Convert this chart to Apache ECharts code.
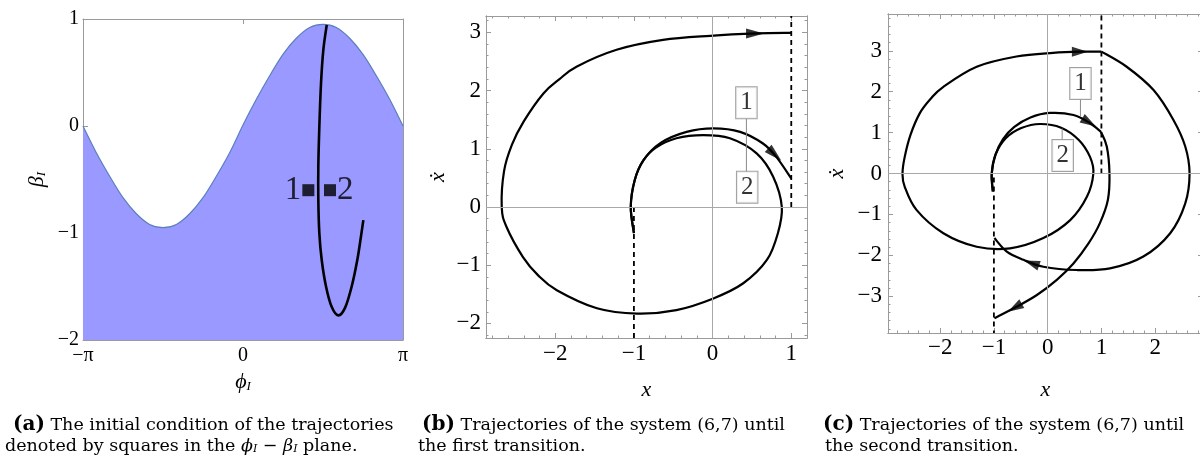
<!DOCTYPE html>
<html><head><meta charset="utf-8">
<script src="https://cdn.jsdelivr.net/npm/echarts@6/dist/echarts.min.js"></script>
<style>html,body{margin:0;padding:0;background:#fff}#c{width:1200px;height:456px}</style>
</head><body><div id="c"></div>
<script>
// ================= DATA =================
// (a) phi_I - beta_I plane
const aBoundaryPhi  = [-3.142,-2.880,-2.618,-2.356,-2.094,-1.833,-1.571,-1.309,-1.047,-0.785,-0.524,-0.262,0,0.262,0.524,0.785,1.047,1.309,1.571,1.833,2.094,2.356,2.618,2.880,3.142];
const aBoundaryBeta = [0,-0.25,-0.47,-0.67,-0.82,-0.92,-0.95,-0.92,-0.82,-0.67,-0.47,-0.25,0.01,0.25,0.47,0.67,0.82,0.92,0.95,0.92,0.82,0.67,0.47,0.25,0];
const aCurvePhi  = [1.644,1.577,1.532,1.499,1.479,1.479,1.499,1.545,1.630,1.741,1.872,2.003,2.134,2.245,2.317,2.363];
const aCurveBeta = [0.944,0.71,0.40,-0.006,-0.38,-0.69,-1.003,-1.25,-1.50,-1.69,-1.77,-1.70,-1.50,-1.25,-1.03,-0.88];
const aSquarePhi  = [1.283, 1.708];
const aSquareBeta = [-0.60, -0.60];
const aSquareNames = ['1', '2'];
const aTickPhi = [-3.1416, 0, 3.1416];
const aTickPhiLabels = ['\u2212\u03c0', '0', '\u03c0'];
const aTickBeta = [-2, -1, 0, 1];

// (b) until the first transition
const bTrajA = [[-1.0,-0.45],[-1.04,0.0],[-0.99,0.46],[-0.88,0.80],[-0.72,1.02],[-0.46,1.18],[-0.12,1.235],[0.22,1.18],[0.56,0.92],[0.77,0.52],[0.88,0.0],[0.83,-0.45],[0.69,-0.91],[0.39,-1.31],[0.01,-1.57],[-0.46,-1.77],[-0.96,-1.83],[-1.47,-1.74],[-1.98,-1.43],[-2.22,-1.17],[-2.41,-0.86],[-2.62,-0.34],[-2.68,0.0],[-2.65,0.62],[-2.55,1.07],[-2.40,1.47],[-2.15,1.95],[-1.95,2.19],[-1.73,2.41],[-1.22,2.70],[-0.63,2.87],[-0.03,2.94],[0.56,2.98],[1.0,2.99]];
const bTrajB = [[-1.0,-0.45],[-1.04,0.0],[-0.99,0.46],[-0.88,0.80],[-0.66,1.10],[-0.33,1.29],[0.01,1.35],[0.35,1.29],[0.64,1.09],[0.81,0.86],[1.0,0.49]];
const bSwitchUp = [[1,0],[1,3.28]];
const bSwitchDown = [[-1,0],[-1,-2.25]];
const bArrows = [[0.54,2.98],[0.79,0.90]];
const bArrowDeg = [-90,-133];
const bLabels = [[0.43,1.79],[0.44,0.34]];
const bLabelNames = ['1','2'];
const bConnector = [[0.43,1.52],[0.43,0.60]];
const bTickX = [-2,-1,0,1];
const bTickY = [-2,-1,0,1,2,3];

// (c) until the second transition
const cTrajA1 = [[-1.02,-0.44],[-1.04,0.0],[-0.97,0.46],[-0.78,0.86],[-0.49,1.11],[-0.14,1.21],[0.25,1.12],[0.58,0.82],[0.79,0.40],[0.85,0.0],[0.73,-0.57],[0.42,-1.14],[-0.08,-1.58],[-0.70,-1.83],[-1.32,-1.79],[-1.94,-1.46],[-2.44,-0.89],[-2.66,-0.32],[-2.70,0.0],[-2.66,0.40],[-2.55,0.95],[-2.38,1.47],[-2.18,1.82],[-1.94,2.12],[-1.32,2.61],[-0.58,2.86],[0.10,2.95],[0.60,2.98],[1.0,2.98]];
const cTrajA2 = [[1.0,2.98],[1.47,2.61],[1.97,2.04],[2.34,1.31],[2.56,0.66],[2.64,0.0],[2.56,-0.73],[2.28,-1.46],[1.78,-2.03],[1.16,-2.32],[0.54,-2.36],[-0.08,-2.28],[-0.45,-2.11],[-0.76,-1.91],[-0.99,-1.58]];
const cTrajB1 = [[-1.02,-0.44],[-1.04,0.0],[-0.97,0.46],[-0.83,0.84],[-0.62,1.14],[-0.32,1.37],[0.04,1.48],[0.48,1.43],[0.79,1.23],[0.99,1.02]];
const cTrajB2 = [[0.99,1.02],[1.10,0.66],[1.15,0.0],[1.12,-0.65],[0.97,-1.22],[0.76,-1.71],[0.48,-2.20],[0.17,-2.60],[-0.20,-2.97],[-0.58,-3.26],[-0.99,-3.54]];
const cSwitchUp = [[1,0],[1,3.9]];
const cSwitchDown = [[-1,-0.1],[-1,-3.9]];
const cArrows = [[0.60,2.98],[0.77,1.25],[-0.30,-2.19],[-0.61,-3.28]];
const cArrowDeg = [-90,-121,71,120];
const cLabels = [[0.61,2.20],[0.28,0.44]];
const cLabelNames = ['1','2'];
const cConnectors = [[[0.61,1.81],[0.61,1.39]],[[0.27,0.84],[0.27,1.10]]];
const cTickX = [-2,-1,0,1,2];
const cTickY = [-3,-2,-1,0,1,2,3];

// ================= CHART =================
const FONT = 'Liberation Serif';
const CAPFONT = 'DejaVu Serif';
const FRAME = '#9a9a9a';
const A_YMIN = -2;
const fmtNum = v => v < 0 ? '\u2212' + Math.abs(v) : String(v);
function minorValues(min, max, step) {
  const out = [];
  for (let k = Math.ceil(min / step - 1e-9); k * step <= max + 1e-9; k++) out.push(+(k * step).toFixed(4));
  return out;
}
const xAxes = [], yAxes = [];
function addAxes(list, kind, gi, min, max, majors, fmt, fontSize, labelMargin, minorStep, nameCfg) {
  const base = { type: 'value', gridIndex: gi, min, max, scale: false,
    splitLine: { show: false }, axisPointer: { show: false },
    axisLine: { show: true, onZero: false, lineStyle: { color: FRAME, width: 1 } } };
  const posA = kind === 'x' ? 'bottom' : 'left', posB = kind === 'x' ? 'top' : 'right';
  const mainIdx = list.length;
  list.push(Object.assign({}, base, nameCfg, { position: posA,
    axisTick: { show: true, inside: true, length: 5, customValues: majors, lineStyle: { color: FRAME } },
    axisLabel: { show: true, customValues: majors, formatter: fmt, fontFamily: FONT, fontSize, color: '#000', margin: labelMargin } }));
  list.push(Object.assign({}, base, { position: posB,
    axisTick: { show: true, inside: true, length: 5, customValues: majors, lineStyle: { color: FRAME } },
    axisLabel: { show: false } }));
  if (minorStep) {
    const minors = minorValues(min, max, minorStep);
    list.push(Object.assign({}, base, { position: posB,
      axisTick: { show: true, inside: true, length: 2.5, customValues: minors, lineStyle: { color: FRAME } },
      axisLabel: { show: false } }));
    list.push(Object.assign({}, base, { position: posA,
      axisTick: { show: true, inside: true, length: 2.5, customValues: minors, lineStyle: { color: FRAME } },
      axisLabel: { show: false } }));
  }
  return mainIdx;
}
const subRich = { i: { fontFamily: FONT, fontStyle: 'italic', fontSize: 22, color: '#000' },
                  s: { fontFamily: FONT, fontStyle: 'italic', fontSize: 13, color: '#000', verticalAlign: 'bottom', padding: [8, 0, 0, 0] } };
function nameCfg(name, gap, rotate, rich) {
  return { name, nameLocation: 'middle', nameGap: gap, nameRotate: rotate,
    nameTextStyle: { fontFamily: FONT, fontStyle: 'italic', fontSize: 22, color: '#000', rich: rich || {} } };
}

// grid a
const axA = addAxes(xAxes, 'x', 0, -3.1416, 3.1416, aTickPhi, (v) => aTickPhiLabels[aTickPhi.indexOf(v)] ?? '', 20, 6, 0, nameCfg('{i|\u03d5}{s|I}', 29, 0, subRich));
const ayA = addAxes(yAxes, 'y', 0, A_YMIN, 1, aTickBeta, fmtNum, 20, 4, 0, nameCfg('{i|\u03b2}{s|I}', 35, 90, subRich));
// grid b
const axB = addAxes(xAxes, 'x', 1, -2.88, 1.2, bTickX, fmtNum, 23, 4, 0.2, nameCfg('x', 41, 0));
const ayB = addAxes(yAxes, 'y', 1, -2.25, 3.28, bTickY, fmtNum, 23, 5, 0.2, nameCfg('\u1e8b', 37, 90));
// grid c
const axC = addAxes(xAxes, 'x', 2, -2.97, 2.89, cTickX, fmtNum, 23, 3, 0.2, nameCfg('x', 46, 0));
const ayC = addAxes(yAxes, 'y', 2, -3.9, 3.9, cTickY, fmtNum, 23, 6, 0.2, nameCfg('\u1e8b', 40, 90));

const zip = (xs, ys) => xs.map((x, i) => [x, ys[i]]);

// Smooth (Catmull-Rom) rendering of read points in pixel space, through the axes' own scales.
function smoothPathData(px) {
  let d = 'M' + px[0][0] + ',' + px[0][1];
  for (let i = 0; i < px.length - 1; i++) {
    const p0 = px[i - 1] || px[i], p1 = px[i], p2 = px[i + 1], p3 = px[i + 2] || px[i + 1];
    const c1x = p1[0] + (p2[0] - p0[0]) / 6, c1y = p1[1] + (p2[1] - p0[1]) / 6;
    const c2x = p2[0] - (p3[0] - p1[0]) / 6, c2y = p2[1] - (p3[1] - p1[1]) / 6;
    d += ' C' + c1x + ',' + c1y + ' ' + c2x + ',' + c2y + ' ' + p2[0] + ',' + p2[1];
  }
  return d;
}
const curve = (xi, yi, pts, width) => ({
  type: 'custom', coordinateSystem: 'cartesian2d', xAxisIndex: xi, yAxisIndex: yi, silent: true, z: 3,
  data: [pts[0]],
  renderItem: (params, api) => ({
    type: 'path',
    shape: { pathData: smoothPathData(pts.map(p => api.coord(p))) },
    style: { stroke: '#000', lineWidth: width || 2.2, fill: 'none', lineJoin: 'round', lineCap: 'butt' }
  })
});
const plainLine = (xi, yi, data, lineStyle, z) => ({ type: 'line', xAxisIndex: xi, yAxisIndex: yi, data, smooth: false,
  symbol: 'none', silent: true, lineStyle, z });
const dashed = (xi, yi, data) => plainLine(xi, yi, data, { color: '#000', width: 1.8, type: [5, 4] }, 2);
const thin = (xi, yi, data) => plainLine(xi, yi, data, { color: '#8a8a8a', width: 1 }, 4);
const zeroLines = (xi, yi) => ({ type: 'line', xAxisIndex: xi, yAxisIndex: yi, data: [], silent: true,
  markLine: { silent: true, symbol: 'none', label: { show: false }, animation: false,
    lineStyle: { color: '#a8a8a8', width: 1, type: 'solid' }, data: [{ xAxis: 0 }, { yAxis: 0 }] }, z: 1 });
const arrows = (xi, yi, pts, degs, size) => ({ type: 'scatter', xAxisIndex: xi, yAxisIndex: yi, silent: true, z: 6,
  symbol: 'triangle', symbolSize: size, itemStyle: { color: '#000' },
  data: pts.map((p, i) => ({ value: p, symbolRotate: degs[i] })) });
const boxes = (xi, yi, pts, names, fs) => ({ type: 'scatter', xAxisIndex: xi, yAxisIndex: yi, silent: true, z: 7,
  symbol: 'circle', symbolSize: 0.1, itemStyle: { color: 'transparent' },
  label: { show: true, position: 'inside', formatter: p => names[p.dataIndex], fontFamily: FONT, fontSize: fs, color: '#000',
    backgroundColor: '#fff', borderColor: '#8a8a8a', borderWidth: 1, padding: [2, 4, 1, 4], lineHeight: fs + 3 },
  data: pts });

const aBoundary = zip(aBoundaryPhi, aBoundaryBeta);
const series = [
  // (a) shaded region below the boundary curve
  { type: 'custom', coordinateSystem: 'cartesian2d', xAxisIndex: axA, yAxisIndex: ayA, silent: true, z: 1,
    data: [aBoundary[0]],
    renderItem: (params, api) => {
      const px = aBoundary.map(p => api.coord(p));
      const br = api.coord([aBoundaryPhi[aBoundaryPhi.length - 1], A_YMIN]);
      const bl = api.coord([aBoundaryPhi[0], A_YMIN]);
      const d = smoothPathData(px);
      return { type: 'group', children: [
        { type: 'path', shape: { pathData: d + ' L' + br[0] + ',' + br[1] + ' L' + bl[0] + ',' + bl[1] + ' Z' }, style: { fill: '#9999ff', stroke: 'none' } },
        { type: 'path', shape: { pathData: d }, style: { fill: 'none', stroke: '#5b7fbd', lineWidth: 1.2 } }
      ] };
    } },
  curve(axA, ayA, zip(aCurvePhi, aCurveBeta), 2.6),
  { type: 'scatter', xAxisIndex: axA, yAxisIndex: ayA, silent: true, z: 6, symbol: 'rect', symbolSize: 12, itemStyle: { color: '#000' },
    label: { show: true, formatter: p => aSquareNames[p.dataIndex], fontFamily: FONT, fontSize: 33, color: '#000', distance: 1 },
    data: aSquarePhi.map((p, i) => ({ value: [p, aSquareBeta[i]], label: { position: i === 0 ? 'left' : 'right' } })) },
  // (b)
  zeroLines(axB, ayB),
  dashed(axB, ayB, bSwitchUp), dashed(axB, ayB, bSwitchDown),
  curve(axB, ayB, bTrajA), curve(axB, ayB, bTrajB),
  arrows(axB, ayB, bArrows, bArrowDeg, [10, 18]),
  thin(axB, ayB, bConnector),
  boxes(axB, ayB, bLabels, bLabelNames, 25),
  // (c)
  zeroLines(axC, ayC),
  dashed(axC, ayC, cSwitchUp), dashed(axC, ayC, cSwitchDown),
  curve(axC, ayC, cTrajA1), curve(axC, ayC, cTrajA2), curve(axC, ayC, cTrajB1), curve(axC, ayC, cTrajB2),
  arrows(axC, ayC, cArrows, cArrowDeg, [10, 16]),
  thin(axC, ayC, cConnectors[0]), thin(axC, ayC, cConnectors[1]),
  boxes(axC, ayC, cLabels, cLabelNames, 25)
];

const capRich = {
  b: { fontFamily: CAPFONT, fontWeight: 'bold', fontSize: 20, color: '#000' },
  t: { fontFamily: CAPFONT, fontSize: 17.5, color: '#000' },
  i: { fontFamily: CAPFONT, fontStyle: 'italic', fontSize: 17.5, color: '#000' },
  s: { fontFamily: CAPFONT, fontStyle: 'italic', fontSize: 11, color: '#000', verticalAlign: 'bottom' }
};
const cap = (left, top, text) => ({ type: 'text', left, top, silent: true, style: { text, rich: capRich, font: '17.5px "DejaVu Serif"', fill: '#000' } });

const chart = echarts.init(document.getElementById('c'), null, { renderer: 'canvas' });
chart.setOption({
  animation: false,
  backgroundColor: '#fff',
  grid: [
    { left: 83, top: 19, width: 320, height: 321, containLabel: false, outerBoundsMode: 'none' },
    { left: 486, top: 16, width: 321, height: 322, containLabel: false, outerBoundsMode: 'none' },
    { left: 888, top: 14, width: 315, height: 319, containLabel: false, outerBoundsMode: 'none' }
  ],
  xAxis: xAxes,
  yAxis: yAxes,
  series,
  graphic: [
    cap(13, 415, '{b|(a)}{t| The initial condition of the trajectories}'),
    cap(5, 437, '{t|denoted by squares in the }{i|\u03d5}{s|I}{t| \u2212 }{i|\u03b2}{s|I}{t| plane.}'),
    cap(422, 415, '{b|(b)}{t| Trajectories of the system (6,7) until}'),
    cap(418, 437, '{t|the first transition.}'),
    cap(823, 415, '{b|(c)}{t| Trajectories of the system (6,7) until}'),
    cap(825, 437, '{t|the second transition.}')
  ]
});
</script></body></html>
